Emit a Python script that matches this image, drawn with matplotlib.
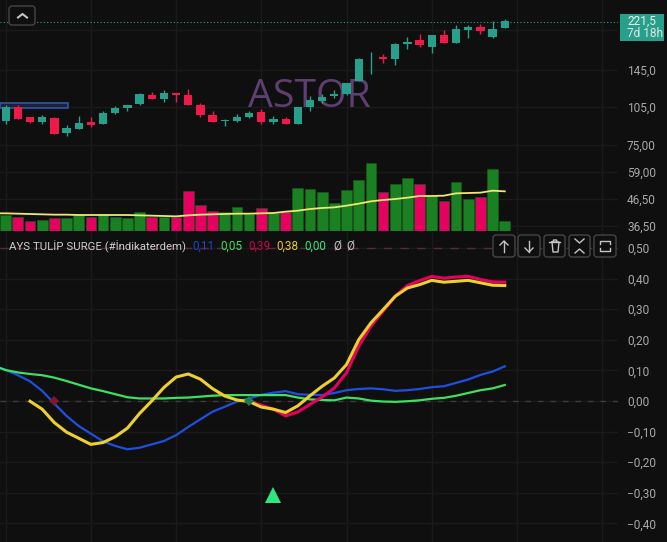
import numpy as np
import matplotlib
matplotlib.use("Agg")
import matplotlib.pyplot as plt
from matplotlib.patches import FancyBboxPatch, Rectangle

plt.rcParams['font.family'] = ['Roboto', 'DejaVu Sans']

BG = '#0f0f0f'
GRID = '#1a1a1a'
UP = '#26a08a'
DOWN = '#f01a4a'

# candles
opens = [92.4,104.5,95.4,91.6,94.6,83.3,86.3,91.6,90.2,99.4,103.6,107.7,115.9,112.2,118.0,115.9,106.1,97.4,92.6,92.6,95.7,100.0,91.8,93.8,90.2,104.5,110.6,114.9,117.6,131.5,160.6,163.2,160.3,182.5,188.6,178.3,197.0,183.6,207.2,211.5,194.7,210.9]
highs = [106.4,106.4,95.4,97.7,95.7,89.1,96.3,95.4,100.6,105.4,106.7,118.0,119.0,121.1,118.0,122.2,108.0,100.6,94.0,98.2,101.2,102.4,96.3,95.4,104.8,114.9,116.9,121.5,129.6,161.6,170.6,167.0,184.9,193.5,198.8,197.0,206.6,215.5,215.5,217.8,223.0,227.3]
lows = [90.0,94.0,90.8,90.0,82.1,80.9,86.3,87.8,90.2,98.2,101.2,106.7,112.2,109.6,109.6,106.7,96.0,91.8,88.1,91.8,95.1,90.2,90.2,90.2,90.2,101.2,108.0,112.8,115.9,131.5,140.3,154.3,151.0,175.2,178.3,168.0,183.6,183.6,192.9,199.4,192.0,210.9]
closes = [104.8,94.0,91.8,96.0,82.1,86.6,90.8,89.4,99.1,103.3,106.4,116.9,112.2,118.0,116.3,106.7,97.1,91.8,93.2,96.0,99.1,91.8,93.8,90.2,104.8,110.9,114.2,116.9,128.9,159.9,161.6,159.9,182.0,186.3,181.0,197.0,184.9,207.8,211.5,204.6,209.3,223.7]

# volume and its average
volume = [48,43,30,33,38,38,50,43,50,43,40,56,43,43,41,119,78,60,56,71,50,68,53,56,129,127,117,84,122,154,205,117,141,159,141,105,90,146,95,101,186,30]
vol_up = [1,0,0,1,0,1,1,0,1,1,1,1,0,1,0,0,0,0,1,1,1,0,1,0,1,1,1,1,1,1,1,0,1,1,0,1,0,1,1,0,1,1]
vol_ma = [53,53,52,51,50,49,49,48,48,48,48,48,47,46,45,44,47,49,50,51,52,52,53,54,58,61,66,69,71,76,82,89,93,96,100,105,105,106,113,114,115,121,119]

# indicator lines
blue = [.115,.101,.084,.064,.033,-.009,-.049,-.082,-.107,-.132,-.147,-.158,-.153,-.142,-.131,-.112,-.085,-.060,-.035,-.019,-.002,.008,.020,.027,.032,.022,.020,.019,.026,.035,.039,.041,.038,.033,.035,.039,.045,.048,.059,.070,.085,.096,.113]
green = [.115,.101,.093,.088,.084,.076,.065,.053,.041,.032,.022,.012,.008,.008,.008,.010,.011,.014,.017,.019,.019,.019,.019,.019,.019,.011,.005,.003,.002,.011,.008,.001,-.002,-.003,-.001,.002,.007,.010,.017,.026,.035,.041,.052]
yellow = [-.001,-.027,-.071,-.102,-.122,-.142,-.136,-.117,-.089,-.041,0,.044,.078,.088,.071,.040,.016,.003,-.002,-.020,-.027,-.038,-.016,.017,.048,.075,.119,.200,.255,.298,.342,.369,.380,.394,.388,.391,.394,.386,.378,.377]
pink = [-.002,-.014,-.027,-.049,-.036,-.011,.013,.042,.092,.179,.244,.293,.342,.377,.393,.407,.401,.405,.407,.397,.389,.388]

price_ticks = [145, 105, 75, 59, 46.5, 36.5]
price_labels = ['145,0', '105,0', '75,00', '59,00', '46,50', '36,50']
ind_ticks = [.5, .4, .3, .2, .1, 0, -.1, -.2, -.3, -.4]
ind_labels = ['0,50', '0,40', '0,30', '0,20', '0,10', '0,00', '\u22120,10', '\u22120,20', '\u22120,30', '\u22120,40']
grid_bars = [0, 7, 14, 21, 28, 35, 42, 49]
last_price = 221.5

W, H = 667, 542
XLIM = (-0.466, 50.3)

fig = plt.figure(figsize=(W/100, H/100), dpi=100, facecolor=BG)
ax = fig.add_axes([0, 1-231/H, 618/W, 231/H], facecolor=BG)
ax2 = fig.add_axes([0, 0, 618/W, 310/H], facecolor=BG)

x = np.arange(len(opens))

# --- price pane
ax.set_yscale('log')
ax.set_xlim(XLIM)
ax.set_ylim(34.9, 269.4)
for g in grid_bars:
    ax.axvline(g, color=GRID, lw=1, zorder=0)
for t in price_ticks + [206.6]:
    ax.axhline(t, color=GRID, lw=1, zorder=0)
ax.axhline(last_price, color=UP, lw=0.8, ls=(0, (1, 2)), zorder=1)
ax.add_patch(Rectangle((-0.466, 104), 5.55, 4, facecolor='#1b2238', edgecolor='#2f4f9f', lw=1.3, zorder=2))
ax.text(248/618, 1-107/231, 'ASTOR', transform=ax.transAxes, color='#5e3f72', fontsize=28.3,
        family='Open Sans', va='baseline', zorder=2)

for i in x:
    c = UP if closes[i] >= opens[i] else DOWN
    ax.vlines(i, lows[i], highs[i], color=c, lw=1, zorder=3)
    ax.bar(i, abs(closes[i]-opens[i]), bottom=min(opens[i], closes[i]), width=0.68, color=c, zorder=3)

ax.set_xticks([])
for s in ax.spines.values():
    s.set_visible(False)

# volume on its own scale inside the price pane
axv = ax.twinx()
axv.set_xlim(XLIM)
axv.set_ylim(0, 693)
axv.patch.set_visible(False)
axv.axis('off')
vol_col = ['#1a8022' if u else '#e6005f' for u in vol_up]
axv.bar(x, volume, width=0.88, color=vol_col, edgecolor='#14601c', lw=0.4)
axv.plot(np.arange(-1, 42), vol_ma, color='#efe76e', lw=1.3)

# twinx moves the ticks to the left, so set them after it
ax.yaxis.tick_right()
ax.set_yticks(price_ticks)
ax.set_yticklabels(price_labels)
ax.minorticks_off()
ax.tick_params(axis='y', length=0, pad=6.5, labelsize=8.6, labelcolor='#a8a8a8')

# --- indicator pane
ax2.set_xlim(XLIM)
ax2.set_ylim(-.461, .552)
for g in grid_bars:
    ax2.axvline(g, color=GRID, lw=1, zorder=0)
for t in ind_ticks:
    ax2.axhline(t, color=GRID, lw=1, zorder=0)
ax2.axhline(0, color='#3c3c3c', lw=1, ls=(0, (4, 5)), zorder=1)
ax2.axhline(.5, color='#5a2a35', lw=1, ls=(0, (6, 6)), zorder=1)

ax2.plot(np.arange(-1, 42), blue, color='#1f4fe0', lw=1.6, zorder=3)
ax2.plot(np.arange(-1, 42), green, color='#3de060', lw=1.6, zorder=3)
ax2.plot(np.arange(20, 42), pink, color='#e8005f', lw=2.2, zorder=4)
ax2.plot(np.arange(2, 42), yellow, color='#ecd02f', lw=2.2, zorder=5)
ax2.plot([4], [0], marker='D', ms=4.6, color='#7a1a30', mew=0, zorder=6)
ax2.plot([20], [0], marker='D', ms=4.6, color='#1f7a55', mew=0, zorder=6)
ax2.plot([22], [-.307], marker='^', ms=11, color='#2ee67f', mew=0, zorder=6)

ax2.yaxis.tick_right()
ax2.set_yticks(ind_ticks)
ax2.set_yticklabels(ind_labels)
ax2.tick_params(axis='y', length=0, pad=6.5, labelsize=8.6, labelcolor='#a8a8a8')
ax2.set_xticks([])
for s in ax2.spines.values():
    s.set_visible(False)

# --- overlay in pixel coordinates: tag, legend, buttons
ov = fig.add_axes([0, 0, 1, 1], zorder=10)
ov.set_xlim(0, W)
ov.set_ylim(H, 0)
ov.axis('off')
ov.patch.set_visible(False)

ov.add_patch(Rectangle((620, 14), 44, 27, color='#26a08a', lw=0))
ov.text(627, 21, '221,5', color='#f0f0f0', fontsize=8.6, va='center')
ov.text(627, 33.5, '7d 18h', color='#e4e4e4', fontsize=8.6, va='center')

ov.text(9, 246.5, 'AYS TULİP SURGE (#İndikaterdem)', color='#cccccc', fontsize=8.2, va='center')
for tx, lab, col in [(192, '0,11', '#2045c8'), (220, '0,05', '#3de060'), (248, '0,39', '#c8004f'),
                     (276, '0,38', '#e6c82c'), (304, '0,00', '#2ee67f'), (333, 'Ø', '#c0c0c0'), (346, 'Ø', '#c0c0c0')]:
    ov.text(tx, 246.5, lab, color=col, fontsize=8.5, va='center')


def button(x0, y0, x1, y1):
    ov.add_patch(FancyBboxPatch((x0+3, y0+3), x1-x0-6, y1-y0-6, boxstyle='round,pad=3,rounding_size=3',
                                facecolor=BG, edgecolor='#454545', lw=1))


IC = '#c4c4c4'
button(9, 6, 35, 25)
ov.plot([18, 22.5, 27], [17.5, 14, 17.5], color=IC, lw=1.5)

button(493, 235, 515, 257)
ov.plot([504, 504], [252, 241], color=IC, lw=1)
ov.plot([500, 504, 508], [245, 241, 245], color=IC, lw=1)

button(518, 235, 540, 257)
ov.plot([529, 529], [241, 252], color=IC, lw=1)
ov.plot([525, 529, 533], [248, 252, 248], color=IC, lw=1)

button(544, 235, 565, 257)
ov.plot([549, 560], [242, 242], color=IC, lw=1)
ov.plot([552, 553, 558, 559, 552], [242, 252, 252, 242, 242], color=IC, lw=1)
ov.plot([553, 553.5, 556.5, 557], [242, 240, 240, 242], color=IC, lw=1)

button(569, 235, 590, 257)
ov.plot([575, 579.5, 584], [239, 243, 239], color=IC, lw=1)
ov.plot([575, 579.5, 584], [253, 249, 253], color=IC, lw=1)

button(594, 235, 616, 257)
ov.plot([600, 600, 610, 610], [244, 241, 241, 244], color=IC, lw=1)
ov.plot([600, 600, 610, 610], [248, 251, 251, 248], color=IC, lw=1)

fig.savefig('out.png', dpi=100, facecolor=BG)
